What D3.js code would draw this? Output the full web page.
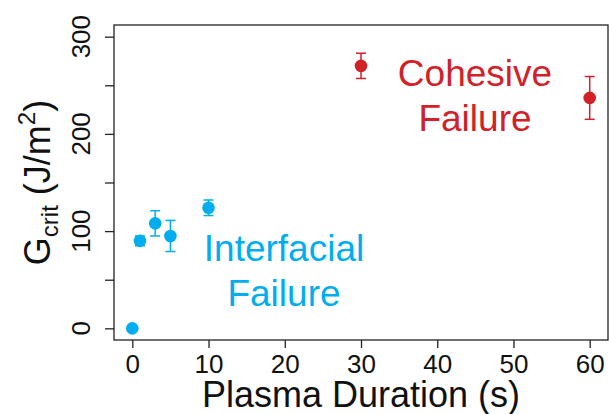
<!DOCTYPE html>
<html>
<head>
<meta charset="utf-8">
<script src="https://d3js.org/d3.v7.min.js"></script>
<style>
html,body{margin:0;padding:0;background:#fff;}
svg{display:block;font-family:"Liberation Sans",Arial,sans-serif;}
</style>
</head>
<body>
<svg id="chart" width="609" height="414"></svg>
<script>
// Data
const durations = [0, 1, 3, 5, 10, 30, 60];
const gcrit = [0, 90, 108, 95, 124, 270, 237];
const errors = [0, 5, 13, 16, 8, 13, 22];
const failureMode = ["interfacial","interfacial","interfacial","interfacial","interfacial","cohesive","cohesive"];
const xTicks = [0, 10, 20, 30, 40, 50, 60];
const yMinorTicks = [0, 50, 100, 150, 200, 250, 300];
const yTickLabels = [0, 100, 200, 300];
const annotations = [
  {lines: ["Cohesive", "Failure"], mode: "cohesive", x: 475, y: 86},
  {lines: ["Interfacial", "Failure"], mode: "interfacial", x: 284, y: 261}
];

const colors = {interfacial: "#00AEEF", cohesive: "#D22128"};

(function () {
const svg = d3.select("#chart");
const pLeft = 114, pRight = 608, pTop = 25, pBottom = 340;

const x = d3.scaleLinear().domain([-2.4, 62.4]).range([pLeft, pRight]);
const y = d3.scaleLinear().domain([-12, 312]).range([pBottom, pTop]);

// Frame
svg.append("rect")
  .attr("x", pLeft).attr("y", pTop)
  .attr("width", pRight - pLeft).attr("height", pBottom - pTop)
  .attr("fill", "none").attr("stroke", "#222").attr("stroke-width", 1.3);

// X axis
const xAxis = svg.append("g").attr("transform", `translate(0,${pBottom})`)
  .call(d3.axisBottom(x).tickValues(xTicks).tickSize(8).tickPadding(4).tickFormat(d3.format("d")));
xAxis.select(".domain").remove();
xAxis.selectAll("line").attr("stroke", "#222").attr("stroke-width", 1.3);
xAxis.selectAll("text").attr("font-size", 26).attr("fill", "#111")
  .attr("dy", null).attr("y", 33);

// Y axis
const yAxis = svg.append("g").attr("transform", `translate(${pLeft},0)`)
  .call(d3.axisLeft(y).tickValues(yMinorTicks).tickSize(9).tickFormat(""));
yAxis.select(".domain").remove();
yAxis.selectAll("line").attr("stroke", "#222").attr("stroke-width", 1.3);

svg.append("g").selectAll("text").data(yTickLabels).join("text")
  .attr("transform", d => `translate(90,${y(d)}) rotate(-90)`)
  .attr("text-anchor", "middle")
  .attr("font-size", 26).attr("fill", "#111")
  .text(d => d);

// X label
svg.append("text")
  .attr("x", (pLeft + pRight) / 2).attr("y", 407)
  .attr("text-anchor", "middle").attr("font-size", 36).attr("fill", "#111")
  .text("Plasma Duration (s)");

// Y label
const yl = svg.append("text")
  .attr("transform", `translate(50,${(pTop + pBottom) / 2}) rotate(-90)`)
  .attr("text-anchor", "middle").attr("font-size", 36).attr("fill", "#111");
yl.append("tspan").text("G");
yl.append("tspan").attr("font-size", 24).attr("dy", 8).text("crit");
yl.append("tspan").attr("dy", -8).text(" (J/m");
yl.append("tspan").attr("font-size", 24).attr("dy", -15).text("2");
yl.append("tspan").attr("dy", 15).text(")");

// Marks
const data = durations.map((d, i) => ({x: d, y: gcrit[i], e: errors[i], mode: failureMode[i]}));

const eb = svg.append("g");
data.filter(d => d.e > 0).forEach(d => {
  const c = colors[d.mode];
  const g = eb.append("g").attr("stroke", c).attr("stroke-width", 1.5);
  g.append("line").attr("x1", x(d.x)).attr("x2", x(d.x)).attr("y1", y(d.y - d.e)).attr("y2", y(d.y + d.e));
  g.append("line").attr("x1", x(d.x) - 5).attr("x2", x(d.x) + 5).attr("y1", y(d.y - d.e)).attr("y2", y(d.y - d.e));
  g.append("line").attr("x1", x(d.x) - 5).attr("x2", x(d.x) + 5).attr("y1", y(d.y + d.e)).attr("y2", y(d.y + d.e));
});

svg.append("g").selectAll("circle").data(data).join("circle")
  .attr("cx", d => x(d.x)).attr("cy", d => y(d.y)).attr("r", 6.3)
  .attr("fill", d => colors[d.mode]);

// Annotations
annotations.forEach(a => {
  const t = svg.append("text").attr("text-anchor", "middle").attr("font-size", 37)
    .attr("fill", colors[a.mode]);
  a.lines.forEach((l, i) => {
    t.append("tspan").attr("x", a.x).attr("y", a.y + i * 44.5).text(l);
  });
});
})();
</script>
</body>
</html>
